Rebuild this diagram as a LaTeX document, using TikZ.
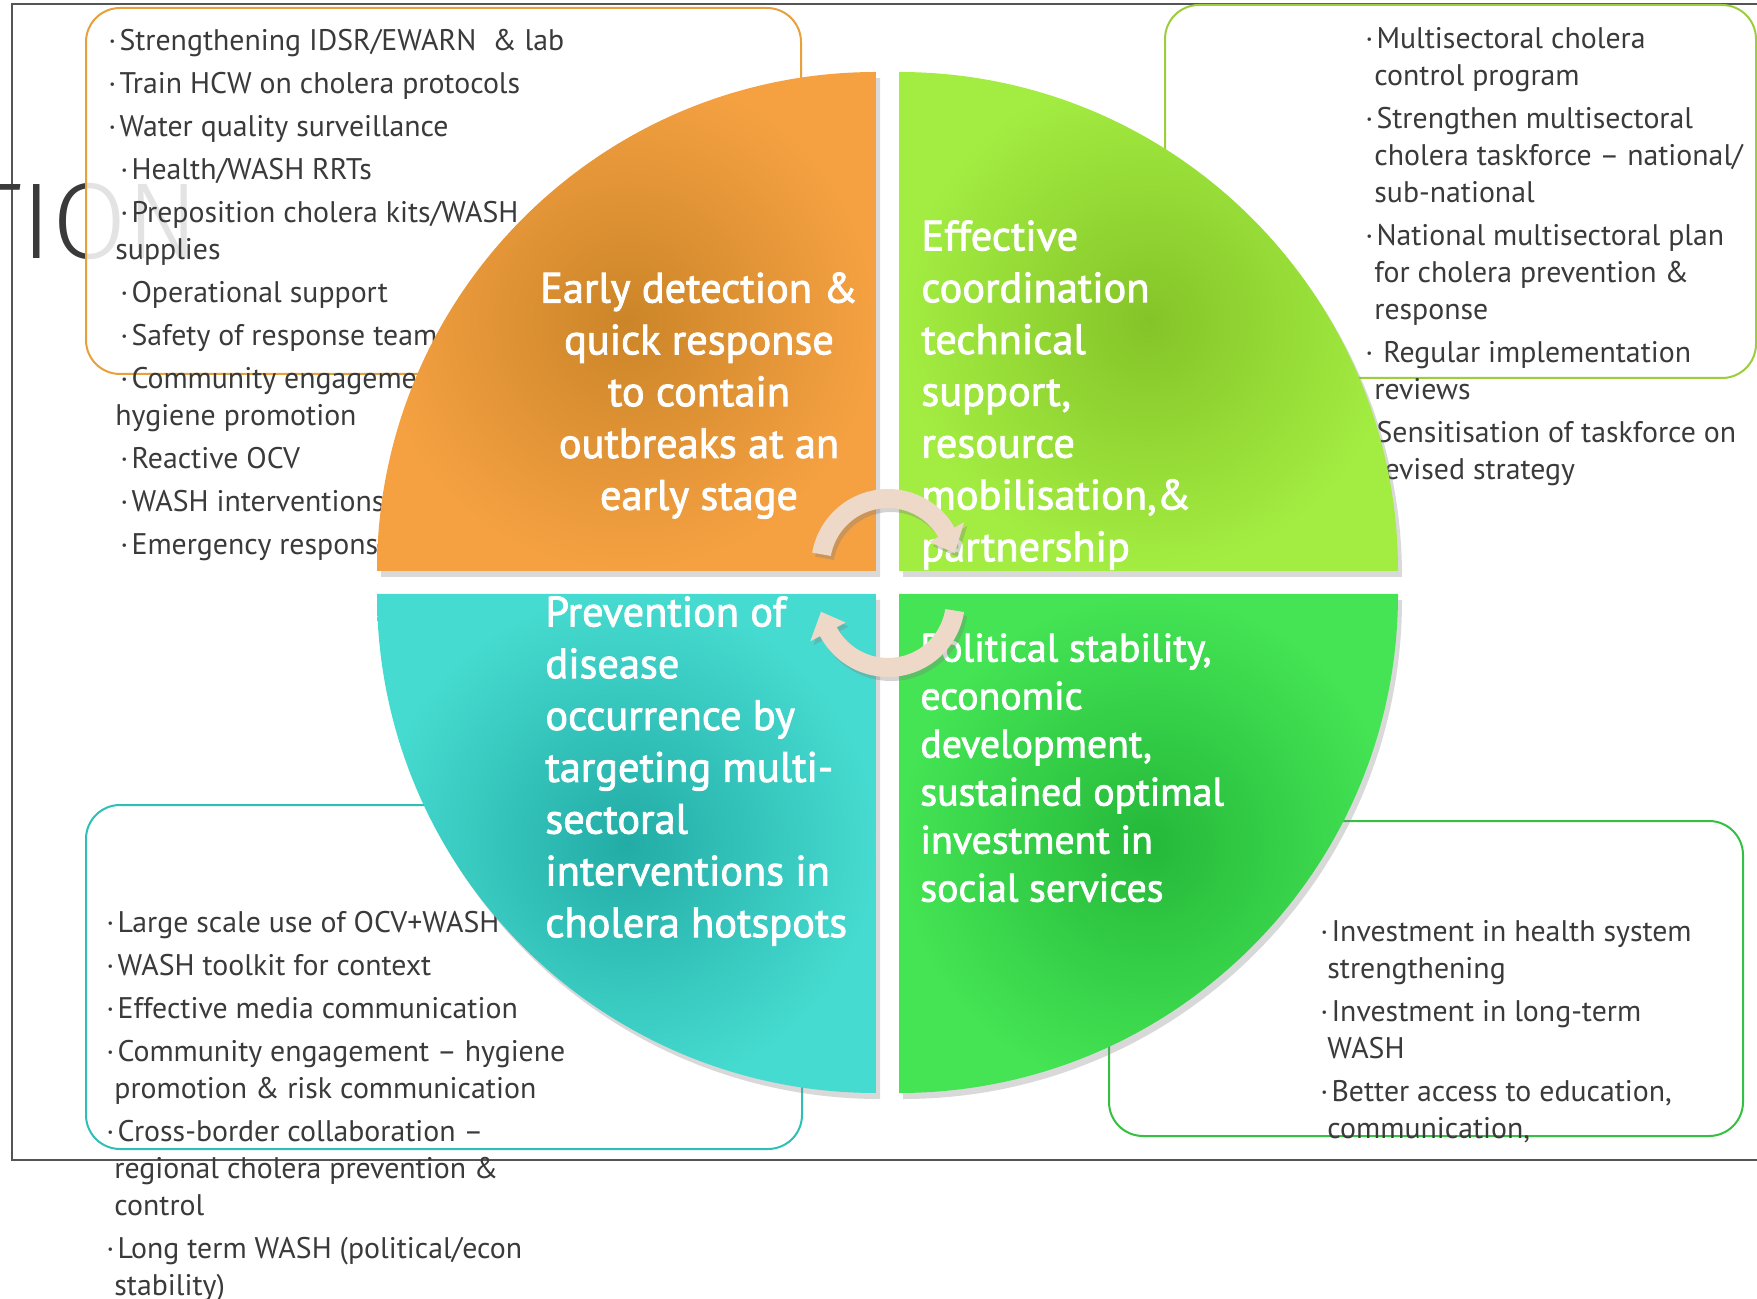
\documentclass[tikz,border=0pt]{standalone}
\usepackage{fontspec}
\setmainfont{PT Sans}
\newfontfamily\thinfont{Fira Sans Light}
\usetikzlibrary{shadows}
\definecolor{ink}{RGB}{58,58,58}
\definecolor{frameline}{RGB}{85,85,85}
\definecolor{detectout}{RGB}{245,161,66}
\definecolor{detectin}{RGB}{203,133,40}
\definecolor{coordout}{RGB}{163,237,66}
\definecolor{coordin}{RGB}{133,196,40}
\definecolor{preventout}{RGB}{70,219,208}
\definecolor{preventin}{RGB}{34,172,165}
\definecolor{stableout}{RGB}{68,228,84}
\definecolor{stablein}{RGB}{37,184,58}
\definecolor{detectedge}{RGB}{232,160,58}
\definecolor{coordedge}{RGB}{155,205,60}
\definecolor{preventedge}{RGB}{46,192,182}
\definecolor{stableedge}{RGB}{52,192,64}
\definecolor{turnpeach}{RGB}{238,216,200}
% list bullet: small centred dot, thin gap
\newcommand{\itm}{·\hspace{1.6pt}}

\begin{document}
\begin{tikzpicture}[x=0.5pt,y=0.5pt,
  lst/.style={inner sep=0pt,anchor=north west,align=left,text=ink,
    font=\fontsize{14.9}{18.5}\selectfont},
  card/.style={rounded corners=17pt,line width=1pt,fill=white,fill opacity=.86},
  quad/.style={drop shadow={shadow xshift=2pt,shadow yshift=-3pt,opacity=.3}},
  big/.style={inner sep=0pt,text=white,
    font=\fontsize{21.2}{25.9}\selectfont\addfontfeatures{FakeBold=2}},
  turn/.style={fill=turnpeach,drop shadow={shadow xshift=1.5pt,shadow yshift=-2pt,opacity=.35}}]
\useasboundingbox (0,0) rectangle (1757,1298);
% slide frame, open to the right
\draw[frameline,line width=1pt] (1757,1293.5) -- (12,1293.5) -- (12,138) -- (1757,138);
\node[text=ink,font=\thinfont\fontsize{54}{54}\selectfont,anchor=base east,inner sep=0pt]
  (ttl) at (200,1039) {TION};
% list cards
\draw[card,draw=detectedge] (86,1290) rectangle (801,924);
\draw[card,draw=coordedge] (1165,1293) rectangle (1756,920);
\draw[card,draw=preventedge] (86,493) rectangle (802,149);
\draw[card,draw=stableedge] (1109,477) rectangle (1743,162);
\node[lst] (detlist) at (108,1269)
  {\itm Strengthening IDSR/EWARN~~\& lab\\[3pt]
   \itm Train HCW on cholera protocols\\[3pt]
   \itm Water quality surveillance\\[3pt]
   \hspace*{6pt}\itm Health/WASH RRTs\\[3pt]
   \hspace*{6pt}\itm Preposition cholera kits/WASH\\
   \hspace*{3.5pt}supplies\\[3pt]
   \hspace*{6pt}\itm Operational support\\[3pt]
   \hspace*{6pt}\itm Safety of response teams\\[3pt]
   \hspace*{6pt}\itm Community engagement --\\
   \hspace*{3.5pt}hygiene promotion\\[3pt]
   \hspace*{6pt}\itm Reactive OCV\\[3pt]
   \hspace*{6pt}\itm WASH interventions\\[3pt]
   \hspace*{6pt}\itm Emergency response};
\node[lst] (coolist) at (1365,1271)
  {\itm Multisectoral cholera\\
   \hspace*{4.5pt}control program\\[3pt]
   \itm Strengthen multisectoral\\
   \hspace*{4.5pt}cholera taskforce -- national/\\
   \hspace*{4.5pt}sub-national\\[3pt]
   \itm National multisectoral plan\\
   \hspace*{4.5pt}for cholera prevention \&\\
   \hspace*{4.5pt}response\\[3pt]
   ·\hspace*{5pt}Regular implementation\\
   \hspace*{4.5pt}reviews\\[3pt]
   \itm Sensitisation of taskforce on\\
   \hspace*{4.5pt}revised strategy};
\node[lst] (prevlist) at (106,387)
  {\itm Large scale use of OCV+WASH\\[3pt]
   \itm WASH toolkit for context\\[3pt]
   \itm Effective media communication\\[3pt]
   \itm Community engagement -- hygiene\\
   \hspace*{4pt}promotion \& risk communication\\[3pt]
   \itm Cross-border collaboration --\\
   \hspace*{4pt}regional cholera prevention \&\\
   \hspace*{4pt}control\\[3pt]
   \itm Long term WASH (political/econ\\
   \hspace*{4pt}stability)};
\node[lst] (stablist) at (1320,378)
  {\itm Investment in health system\\
   \hspace*{3.5pt}strengthening\\[3pt]
   \itm Investment in long-term\\
   \hspace*{3.5pt}WASH\\[3pt]
   \itm Better access to education,\\
   \hspace*{3.5pt}communication,};
% the four quarter discs
\shade[quad,inner color=detectin,outer color=detectout]
  (876,727) -- (377,727) arc[start angle=180,end angle=90,radius=499] -- cycle;
\shade[quad,inner color=coordin,outer color=coordout]
  (899,727) -- (899,1226) arc[start angle=90,end angle=0,radius=499] -- cycle;
\shade[quad,inner color=preventin,outer color=preventout]
  (876,704) -- (377,704) arc[start angle=180,end angle=270,radius=499] -- cycle;
\shade[quad,inner color=stablein,outer color=stableout]
  (899,704) -- (1398,704) arc[start angle=0,end angle=-90,radius=499] -- cycle;
\node[big,anchor=north,align=center] (det) at (699,1026)
  {Early detection \&\\quick response\\to contain\\outbreaks at an\\early stage};
\node[big,anchor=north west,align=left] (coo) at (921,1078)
  {Effective\\coordination\\technical\\support,\\resource\\mobilisation,\&\\partnership};
\node[big,anchor=north west,align=left] (prev) at (545,702)
  {Prevention of\\disease\\occurrence by\\targeting multi-\\sectoral\\interventions in\\cholera hotspots};
\node[big,anchor=north west,align=left,
  font=\fontsize{19.9}{24}\selectfont\addfontfeatures{FakeBold=2}] (stab) at (920,665)
  {Political stability,\\economic\\development,\\sustained optimal\\investment in\\social services};
% cycle arrows in the middle
\coordinate (upturn) at (888,732);
\coordinate (downturn) at (888,698);
\fill[turn,shift={(upturn)}] (170:77) arc[start angle=170,end angle=30,radius=77]
  -- (30:88) -- (11:68) -- (30:48) -- (30:58) arc[start angle=30,end angle=170,radius=58] -- cycle;
\fill[turn,shift={(downturn)}] (-9:77) arc[start angle=-9,end angle=-152,radius=77]
  -- (-152:88) -- (-170:68) -- (-152:48) -- (-152:58) arc[start angle=-152,end angle=-9,radius=58] -- cycle;
\end{tikzpicture}
\end{document}
